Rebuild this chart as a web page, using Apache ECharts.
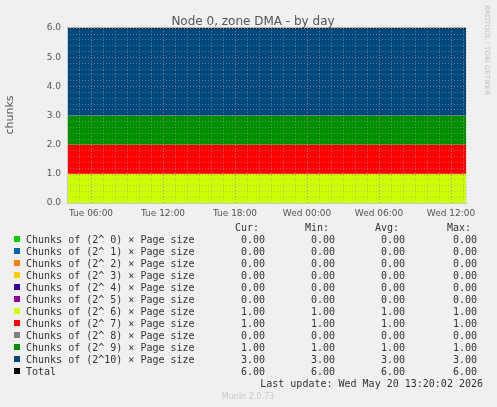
<!DOCTYPE html>
<html><head><meta charset="utf-8">
<script src="https://cdn.jsdelivr.net/npm/echarts@6/dist/echarts.min.js"></script>
<style>html,body{margin:0;padding:0;background:#F0F0F0}#c{width:497px;height:407px}</style>
</head><body><div id="c"></div>
<script>
// hours since Tue 00:00
const times = [4, 37.25];
const names = ["Chunks of (2^ 0) × Page size","Chunks of (2^ 1) × Page size","Chunks of (2^ 2) × Page size","Chunks of (2^ 3) × Page size","Chunks of (2^ 4) × Page size","Chunks of (2^ 5) × Page size","Chunks of (2^ 6) × Page size","Chunks of (2^ 7) × Page size","Chunks of (2^ 8) × Page size","Chunks of (2^ 9) × Page size","Chunks of (2^10) × Page size"];
const colors = ["#00CC00","#0066B3","#FF8000","#FFCC00","#330099","#990099","#CCFF00","#FF0000","#808080","#008F00","#00487D"];
const values = [[0,0],[0,0],[0,0],[0,0],[0,0],[0,0],[1,1],[1,1],[0,0],[1,1],[3,3]];
const totalVals = [6,6];
const cur = ["0.00","0.00","0.00","0.00","0.00","0.00","1.00","1.00","0.00","1.00","3.00","6.00"];
const mins = ["0.00","0.00","0.00","0.00","0.00","0.00","1.00","1.00","0.00","1.00","3.00","6.00"];
const avgs = ["0.00","0.00","0.00","0.00","0.00","0.00","1.00","1.00","0.00","1.00","3.00","6.00"];
const maxs = ["0.00","0.00","0.00","0.00","0.00","0.00","1.00","1.00","0.00","1.00","3.00","6.00"];
const xMajor = [6,12,18,24,30,36];
const xLabels = {6:"Tue 06:00",12:"Tue 12:00",18:"Tue 18:00",24:"Wed 00:00",30:"Wed 06:00",36:"Wed 12:00"};
const yMajor = [1,2,3,4,5,6];

const T0 = Date.UTC(2026,4,19,0,0,0);
const H = 3600000;
const chart = echarts.init(document.getElementById('c'));
const mono = "DejaVu Sans Mono";
const series = names.map((n,i)=>({
  type:'line', name:n, stack:'s', symbol:'none', xAxisIndex:0, yAxisIndex:0,
  data: times.map((t,j)=>[T0+t*H, values[i][j]]),
  lineStyle:{width:0}, areaStyle:{color:colors[i], opacity:1}, color:colors[i], z:2
}));
series.push({type:'line', name:'Total', symbol:'none', data: times.map((t,j)=>[T0+t*H,totalVals[j]]),
  lineStyle:{color:'#000',width:1}, z:3});
series.push({type:'line', xAxisIndex:1, yAxisIndex:1, data:[], z:20,
  markLine:{silent:true, symbol:'none', label:{show:false},
    lineStyle:{color:'rgba(230,80,80,0.7)', type:[1,2], width:1},
    data: xMajor.map(v=>({xAxis:v})).concat(yMajor.map(v=>({yAxis:v})))}});

const graphic = [];
const rowY = k => 240 + k*12;
names.concat(["Total"]).forEach((n,k)=>{
  graphic.push({type:'rect', shape:{x:14,y:rowY(k)-4,width:6,height:6}, style:{fill:k<11?colors[k]:'#000'}});
  graphic.push({type:'text', x:26, y:rowY(k), style:{text:n, font:"10px "+mono, fill:'#333', textVerticalAlign:'middle'}});
  [[cur,265],[mins,335],[avgs,405],[maxs,477]].forEach(([arr,x])=>{
    graphic.push({type:'text', x:x, y:rowY(k), style:{text:arr[k], font:"10px "+mono, fill:'#333', textAlign:'right', textVerticalAlign:'middle'}});
  });
});
[["Cur:",259],["Min:",329],["Avg:",399],["Max:",471]].forEach(([t,x])=>{
  graphic.push({type:'text', x:x, y:228, style:{text:t, font:"10px "+mono, fill:'#333', textAlign:'right', textVerticalAlign:'middle'}});
});
graphic.push({type:'text', x:483, y:384, style:{text:"Last update: Wed May 20 13:20:02 2026", font:"10px "+mono, fill:'#333', textAlign:'right', textVerticalAlign:'middle'}});
graphic.push({type:'text', x:248, y:397, style:{text:"Munin 2.0.73", font:"8px DejaVu Sans", fill:'#C8C8C8', textAlign:'center', textVerticalAlign:'middle'}});
graphic.push({type:'text', x:487, y:5, rotation:-Math.PI/2, style:{text:"RRDTOOL / TOBI OETIKER", font:"7px DejaVu Sans", fill:'#C0C0C0', textVerticalAlign:'middle'}});
graphic.push({type:'text', x:10, y:115, rotation:Math.PI/2, style:{text:"chunks", font:"11px DejaVu Sans", fill:'#555', textAlign:'center', textVerticalAlign:'middle'}});

chart.setOption({
  animation:false, backgroundColor:'#F0F0F0',
  title:{text:'Node 0, zone DMA - by day', left:248, textAlign:'center', top:11,
    textStyle:{fontFamily:'DejaVu Sans', fontSize:12, fontWeight:'normal', color:'#555'}},
  grid:[{left:67,top:28,width:399,height:175},{left:67,top:28,width:399,height:175}],
  xAxis:[
    {type:'time', min:T0+times[0]*H, max:T0+times[1]*H, gridIndex:0,
      axisLine:{show:false}, axisTick:{show:false}, splitLine:{show:false}, axisLabel:{show:false}},
    {type:'value', min:4, max:37.25, interval:1, gridIndex:1, z:10,
      axisLine:{show:true, lineStyle:{color:'#C8C8C8'}}, axisTick:{show:false},
      axisLabel:{fontFamily:'DejaVu Sans', fontSize:9, color:'#555', margin:6,
        formatter:v=>xLabels[v]||'', showMinLabel:false, showMaxLabel:false},
      splitLine:{show:true, lineStyle:{color:'rgba(160,160,160,0.55)', type:[1,2]}}}
  ],
  yAxis:[
    {type:'value', min:0, max:6, interval:1, gridIndex:0,
      axisLine:{show:false}, axisTick:{show:false}, splitLine:{show:false},
      axisLabel:{fontFamily:'DejaVu Sans', fontSize:9, color:'#555', formatter:v=>v.toFixed(1), margin:6}},
    {type:'value', min:0, max:6, interval:0.2, gridIndex:1, z:10,
      axisLine:{show:true, lineStyle:{color:'#C8C8C8'}}, axisTick:{show:false}, axisLabel:{show:false},
      splitLine:{show:true, lineStyle:{color:'rgba(160,160,160,0.55)', type:[1,2]}}}
  ],
  series: series,
  graphic: graphic
});
</script></body></html>
